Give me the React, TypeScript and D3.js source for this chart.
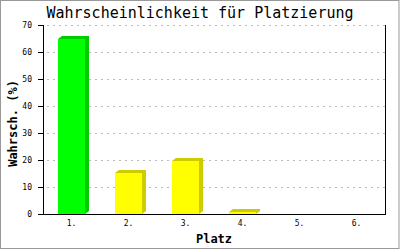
import React from "react";
import * as d3 from "d3";

const categories = ["1.", "2.", "3.", "4.", "5.", "6."];
const values = [64.8, 15.3, 19.6, 0.7, 0, 0];
const yTicks = [0, 10, 20, 30, 40, 50, 60, 70];
const title = "Wahrscheinlichkeit für Platzierung";
const xTitle = "Platz";
const yTitle = "Wahrsch. (%)";

const W = 400, H = 250;
const left = 43, right = 385, top = 25, bottom = 214;
const mono = "'DejaVu Sans Mono', 'Liberation Mono', monospace";

export default function App() {
  const x = d3.scaleBand<string>().domain(categories).range([left, right]).paddingInner(0.52).paddingOuter(0.26);
  const y = d3.scaleLinear().domain([0, 70]).range([bottom, top]);
  const dx = 4, dy = 3;
  return (
    <svg width={W} height={H} style={{ position: "fixed", left: 0, top: 0, display: "block", background: "#fff" }}>
      <rect x={0.5} y={0.5} width={398.5} height={248} fill="#fff" stroke="#999" />
      <text x={200} y={18} textAnchor="middle" fontFamily={mono} fontSize={15} fill="#000">{title}</text>
      {yTicks.filter(t => t > 0).map(t => (
        <line key={"g" + t} x1={left + 4} x2={right} y1={Math.round(y(t)) + 0.5} y2={Math.round(y(t)) + 0.5}
          stroke="#bbb" strokeDasharray="2,4" />
      ))}
      {categories.map((c, i) => {
        const v = values[i];
        if (v <= 0) return null;
        const x0 = Math.round(x(c)!);
        const x1 = Math.round(x(c)! + x.bandwidth());
        const yt = Math.round(y(v));
        const green = i === 0;
        const front = green ? "#00ff00" : "#ffff00";
        const dark = green ? "#00cc00" : "#cccc00";
        const pts = [[x0, yt], [x0 + dx, yt - dy], [x1 + dx, yt - dy], [x1 + dx, bottom - dy], [x1, bottom]]
          .map(p => p.join(",")).join(" ");
        return (
          <g key={c}>
            <polygon points={pts} fill={dark} />
            <rect x={x0} y={yt} width={x1 - x0} height={bottom - yt} fill={front} />
          </g>
        );
      })}
      <line x1={left + 0.5} x2={left + 0.5} y1={top} y2={bottom + 0.5} stroke="#000" />
      <line x1={right + 0.5} x2={right + 0.5} y1={top} y2={bottom + 0.5} stroke="#000" />
      <line x1={left} x2={right + 1} y1={bottom + 0.5} y2={bottom + 0.5} stroke="#000" />
      {yTicks.map(t => (
        <g key={"t" + t}>
          <line x1={38} x2={left} y1={Math.round(y(t)) + 0.5} y2={Math.round(y(t)) + 0.5} stroke="#000" />
          <text x={32} y={Math.round(y(t)) + 3} textAnchor="end" fontFamily={mono} fontSize={8} fill="#000">{t}</text>
        </g>
      ))}
      {categories.map(c => (
        <text key={"l" + c} x={x(c)! + x.bandwidth() / 2} y={226} textAnchor="middle" fontFamily={mono} fontSize={8} fill="#000">{c}</text>
      ))}
      <text x={(left + right) / 2} y={243} textAnchor="middle" fontFamily={mono} fontSize={12} fontWeight="bold" fill="#000">{xTitle}</text>
      <text transform={`translate(17,${(top + bottom) / 2 + 4}) rotate(-90)`} textAnchor="middle" fontFamily={mono} fontSize={12} fontWeight="bold" fill="#000">{yTitle}</text>
    </svg>
  );
}
